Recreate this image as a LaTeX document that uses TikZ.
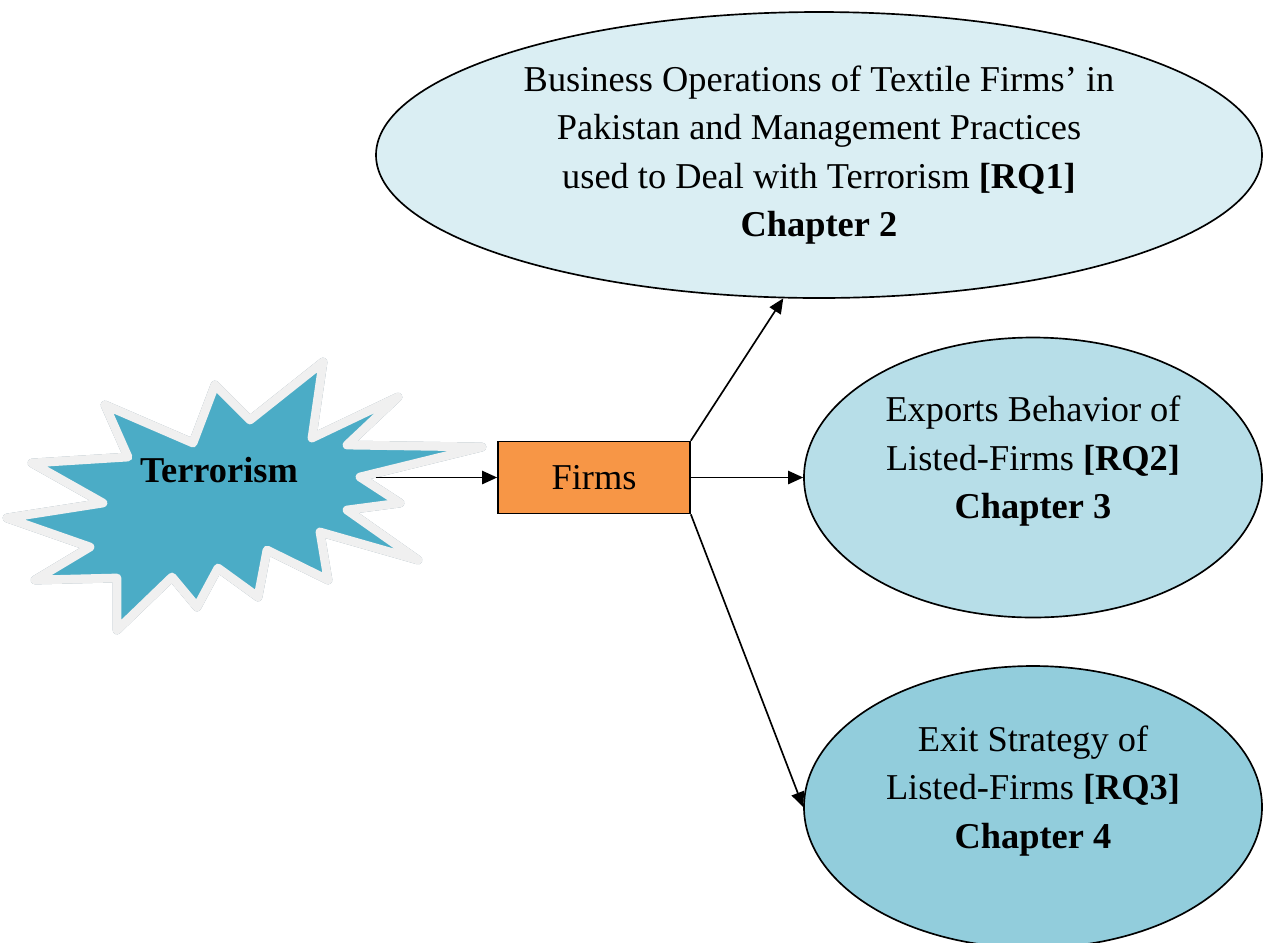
\documentclass[tikz,border=0pt]{standalone}
\usepackage{fontspec}
\setmainfont{Liberation Serif}
\usetikzlibrary{shapes.geometric,arrows.meta}

\definecolor{azulestrella}{HTML}{4BACC6}
\definecolor{bordeestrella}{HTML}{F0F0F0}
\definecolor{sombraestrella}{HTML}{8FA3AD}
\definecolor{celeste1}{HTML}{DAEEF3}
\definecolor{celeste2}{HTML}{B7DEE8}
\definecolor{celeste3}{HTML}{92CDDC}
\definecolor{naranja}{HTML}{F79646}

\begin{document}
\begin{tikzpicture}[every node/.style={font=\fontsize{20.7}{27.6}\selectfont},
    elipse/.style={draw, ellipse, line width=0.95pt, inner sep=0pt, align=center},
    flecha/.style={-{Triangle[length=8.5pt,width=7.5pt]}, line width=0.95pt},
    contorno/.style={insert path={
        (6.46,-7.24) -- (6.24,-8.76) -- (7.96,-7.94) -- (6.94,-8.90)
        -- (9.64,-8.94) -- (7.20,-9.54) -- (8.00,-10.06) -- (6.94,-10.20)
        -- (8.36,-11.20) -- (6.40,-10.64) -- (6.56,-11.60) -- (5.34,-11.00)
        -- (5.16,-11.94) -- (4.36,-11.36) -- (3.94,-12.14) -- (3.44,-11.54)
        -- (2.34,-12.60) -- (2.34,-11.56) -- (0.70,-11.60) -- (1.80,-10.94)
        -- (0.14,-10.36) -- (2.06,-10.06) -- (0.64,-9.26) -- (2.56,-9.14)
        -- (2.10,-8.10) -- (3.86,-8.86) -- (4.30,-7.70) -- (5.00,-8.40) -- cycle}}]
    \useasboundingbox (0,0) rectangle (25.26,-18.84);

    % Estrella con sombra y borde claro
    \filldraw[contorno, shift={(0.08,-0.08)}, fill=sombraestrella, draw=sombraestrella,
        line width=5pt, line join=round];
    \filldraw[contorno, fill=azulestrella, draw=bordeestrella, line width=5pt, line join=round];
    \node[font=\fontsize{20.7}{27.6}\selectfont\bfseries] (terror) at (4.38,-9.40) {Terrorism};
    \coordinate (salida) at (7.52,-9.55);

    % Caja central
    \node[draw, fill=naranja, line width=0.95pt, minimum width=3.84cm, minimum height=1.44cm]
        (firms) at (11.88,-9.55) {Firms};

    % Elipses de los capitulos
    \node[elipse, fill=celeste1, minimum width=17.72cm, minimum height=5.72cm] (cap2) at (16.38,-3.10)
        {Business Operations of Textile Firms' in\\
         Pakistan and Management Practices\\
         used to Deal with Terrorism \textbf{[RQ1]}\\
         \textbf{Chapter 2}};
    \node[elipse, fill=celeste2, minimum width=9.16cm, minimum height=5.60cm] (cap3) at (20.66,-9.55)
        {Exports Behavior of\\
         Listed-Firms \textbf{[RQ2]}\\
         \textbf{Chapter 3}\\[-5pt]\mbox{}};
    \node[elipse, fill=celeste3, minimum width=9.16cm, minimum height=5.64cm] (cap4) at (20.66,-16.14)
        {Exit Strategy of\\
         Listed-Firms \textbf{[RQ3]}\\
         \textbf{Chapter 4}\\[-5pt]\mbox{}};

    % Flechas
    \draw[flecha] (salida) -- (firms.west);
    \draw[flecha] (firms.north east) -- (cap2.256);
    \draw[flecha] (firms.east) -- (cap3.west);
    \draw[flecha] (firms.south east) -- (cap4.west);
\end{tikzpicture}
\end{document}
